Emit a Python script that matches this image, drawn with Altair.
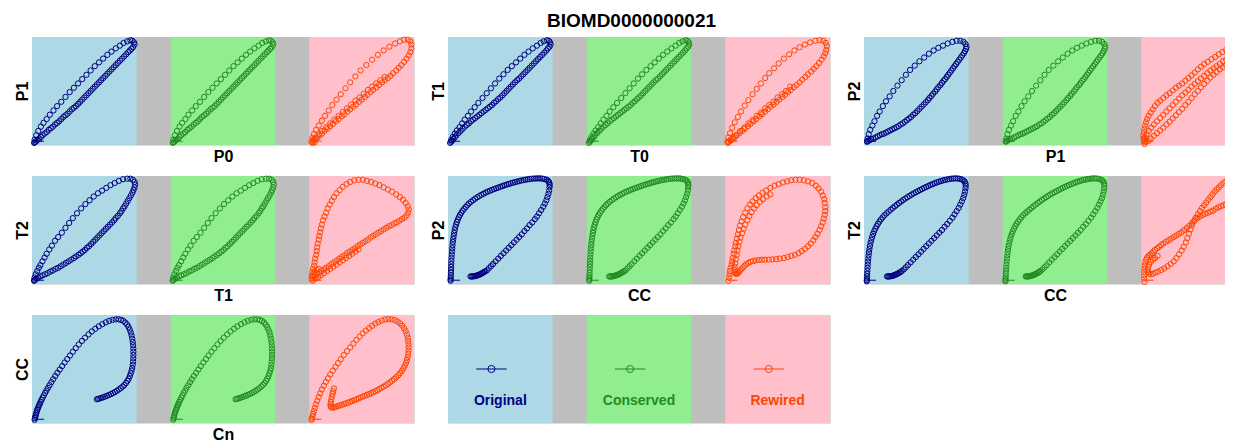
import altair as alt
import pandas as pd

FONT = "Liberation Sans"
GAP = 0.325            # grey gap between sub-panels, in sub-panel widths
SPAN = 1 + GAP
VARIANTS = ["Original", "Conserved", "Rewired"]
POINT_COLORS = ["#000080", "#228B22", "#FF4500"]
BG_COLORS = ["#ADD8E6", "#90EE90", "#FFC0CB"]
GRAY = "#BEBEBE"
TITLE = "BIOMD0000000021"

# (x label, y label) for each panel
PANEL_AXES = [("P0", "P1"), ("T0", "T1"), ("P1", "P2"), ("T1", "T2"),
              ("CC", "P2"), ("CC", "T2"), ("Cn", "CC")]

# normalised trajectories (0..1 inside each sub-panel)
P1_P0_ORIGINAL = [
    (0.02, 0.02), (0.025, 0.05), (0.04, 0.09), (0.06, 0.13), (0.085, 0.17), (0.11, 0.205), (0.14, 0.24),
    (0.17, 0.28), (0.205, 0.32), (0.24, 0.36), (0.28, 0.40), (0.32, 0.445), (0.36, 0.49), (0.40, 0.53),
    (0.44, 0.57), (0.48, 0.61), (0.52, 0.65), (0.56, 0.69), (0.60, 0.73), (0.64, 0.765), (0.68, 0.80),
    (0.72, 0.835), (0.76, 0.865), (0.80, 0.895), (0.84, 0.92), (0.875, 0.945), (0.91, 0.96), (0.94, 0.97),
    (0.96, 0.965), (0.975, 0.95), (0.98, 0.93),
    (0.965, 0.905), (0.95, 0.89), (0.935, 0.875), (0.92, 0.86), (0.90, 0.84), (0.88, 0.82), (0.86, 0.80),
    (0.84, 0.78), (0.82, 0.76), (0.80, 0.74), (0.78, 0.72), (0.76, 0.70), (0.74, 0.68), (0.72, 0.66),
    (0.70, 0.64), (0.68, 0.62), (0.66, 0.60), (0.64, 0.58), (0.62, 0.56), (0.60, 0.54), (0.58, 0.52),
    (0.56, 0.50), (0.54, 0.48), (0.52, 0.46), (0.50, 0.44), (0.48, 0.42), (0.46, 0.40), (0.44, 0.38),
    (0.42, 0.36), (0.40, 0.345), (0.38, 0.33), (0.36, 0.31), (0.34, 0.29), (0.32, 0.275), (0.30, 0.26),
    (0.28, 0.24), (0.26, 0.22), (0.24, 0.205), (0.22, 0.19), (0.20, 0.17), (0.18, 0.155), (0.16, 0.14),
    (0.14, 0.12), (0.12, 0.105), (0.10, 0.09), (0.085, 0.075), (0.07, 0.06), (0.055, 0.05), (0.045, 0.04),
    (0.035, 0.03), (0.025, 0.025)]
P1_P0_CONSERVED = P1_P0_ORIGINAL
P1_P0_REWIRED = [
    (0.02, 0.03), (0.03, 0.065), (0.045, 0.10), (0.065, 0.14), (0.09, 0.18), (0.12, 0.225), (0.15, 0.27),
    (0.185, 0.32), (0.22, 0.37), (0.26, 0.42), (0.30, 0.47), (0.345, 0.525), (0.39, 0.58), (0.44, 0.635),
    (0.49, 0.69), (0.545, 0.74), (0.60, 0.79), (0.655, 0.835), (0.71, 0.875), (0.765, 0.91), (0.82, 0.94),
    (0.865, 0.96), (0.905, 0.975), (0.94, 0.975), (0.965, 0.96), (0.975, 0.93), (0.975, 0.895), (0.965, 0.86),
    (0.95, 0.83), (0.93, 0.80), (0.905, 0.77), (0.88, 0.74), (0.855, 0.715), (0.83, 0.69), (0.80, 0.665),
    (0.775, 0.64), (0.75, 0.62), (0.72, 0.60), (0.695, 0.58), (0.665, 0.555), (0.64, 0.535), (0.61, 0.51),
    (0.585, 0.49), (0.555, 0.465), (0.53, 0.445), (0.50, 0.42), (0.475, 0.40), (0.445, 0.375), (0.42, 0.355),
    (0.39, 0.33), (0.365, 0.31), (0.335, 0.285), (0.31, 0.265), (0.28, 0.24), (0.255, 0.22), (0.225, 0.195),
    (0.20, 0.175), (0.17, 0.15), (0.145, 0.13), (0.12, 0.105), (0.095, 0.085), (0.075, 0.065), (0.055, 0.05),
    (0.04, 0.04), (0.03, 0.03),
    (0.72, 0.63), (0.68, 0.60), (0.64, 0.57), (0.60, 0.54), (0.56, 0.51), (0.52, 0.475), (0.48, 0.44),
    (0.44, 0.41), (0.40, 0.375), (0.36, 0.34), (0.32, 0.305), (0.28, 0.27), (0.24, 0.235), (0.20, 0.20),
    (0.16, 0.165), (0.12, 0.13), (0.09, 0.10), (0.06, 0.07), (0.04, 0.05), (0.03, 0.02), (0.05, 0.025)]

T1_T0_ORIGINAL = [
    (0.02, 0.02), (0.03, 0.045), (0.045, 0.075), (0.065, 0.105), (0.085, 0.135), (0.11, 0.165), (0.135, 0.20),
    (0.16, 0.235), (0.19, 0.27), (0.22, 0.31), (0.255, 0.35), (0.29, 0.39), (0.33, 0.435), (0.37, 0.48),
    (0.41, 0.525), (0.45, 0.57), (0.49, 0.615), (0.53, 0.655), (0.57, 0.695), (0.61, 0.73), (0.65, 0.765),
    (0.69, 0.80), (0.73, 0.835), (0.77, 0.865), (0.81, 0.895), (0.85, 0.92), (0.885, 0.945), (0.915, 0.96),
    (0.945, 0.97), (0.965, 0.965), (0.975, 0.95), (0.98, 0.93),
    (0.97, 0.91), (0.955, 0.895), (0.94, 0.875), (0.92, 0.855), (0.90, 0.835), (0.88, 0.815), (0.86, 0.795),
    (0.84, 0.775), (0.82, 0.755), (0.80, 0.735), (0.78, 0.715), (0.76, 0.695), (0.74, 0.675), (0.72, 0.655),
    (0.70, 0.635), (0.68, 0.615), (0.66, 0.60), (0.64, 0.58), (0.62, 0.56), (0.60, 0.54), (0.58, 0.52),
    (0.56, 0.50), (0.54, 0.48), (0.52, 0.46), (0.50, 0.44), (0.48, 0.425), (0.46, 0.405), (0.44, 0.39),
    (0.42, 0.37), (0.40, 0.355), (0.38, 0.34), (0.36, 0.325), (0.34, 0.31), (0.32, 0.295), (0.30, 0.28),
    (0.28, 0.265), (0.26, 0.25), (0.24, 0.235), (0.22, 0.22), (0.20, 0.20), (0.18, 0.185), (0.16, 0.17),
    (0.14, 0.15), (0.12, 0.13), (0.10, 0.11), (0.08, 0.09), (0.065, 0.07), (0.05, 0.055), (0.04, 0.04),
    (0.03, 0.03)]
T1_T0_CONSERVED = T1_T0_ORIGINAL
T1_T0_REWIRED = [
    (0.02, 0.03), (0.03, 0.07), (0.045, 0.11), (0.065, 0.16), (0.09, 0.21), (0.12, 0.26), (0.15, 0.31),
    (0.185, 0.365), (0.22, 0.415), (0.26, 0.47), (0.30, 0.52), (0.34, 0.57), (0.38, 0.62), (0.42, 0.665),
    (0.465, 0.71), (0.51, 0.755), (0.56, 0.80), (0.61, 0.84), (0.66, 0.875), (0.71, 0.905), (0.76, 0.93),
    (0.81, 0.95), (0.86, 0.965), (0.90, 0.97), (0.935, 0.965), (0.96, 0.945), (0.97, 0.915), (0.965, 0.88),
    (0.955, 0.85), (0.94, 0.82), (0.92, 0.79), (0.895, 0.76), (0.87, 0.73), (0.845, 0.705), (0.82, 0.68),
    (0.79, 0.655), (0.765, 0.63), (0.735, 0.605), (0.71, 0.58), (0.68, 0.555), (0.655, 0.535), (0.625, 0.51),
    (0.60, 0.49), (0.57, 0.465), (0.545, 0.445), (0.515, 0.42), (0.49, 0.40), (0.46, 0.375), (0.435, 0.355),
    (0.405, 0.33), (0.38, 0.31), (0.35, 0.285), (0.325, 0.265), (0.295, 0.24), (0.27, 0.22), (0.24, 0.195),
    (0.215, 0.175), (0.185, 0.15), (0.16, 0.13), (0.135, 0.11), (0.11, 0.09), (0.09, 0.07), (0.07, 0.055),
    (0.05, 0.04), (0.035, 0.03), (0.025, 0.02),
    (0.62, 0.54), (0.58, 0.50), (0.54, 0.47), (0.50, 0.44), (0.46, 0.40), (0.42, 0.37), (0.38, 0.34),
    (0.34, 0.30), (0.30, 0.27), (0.26, 0.23), (0.22, 0.20), (0.18, 0.16), (0.14, 0.13), (0.10, 0.09),
    (0.07, 0.07), (0.05, 0.05)]

P2_P1_ORIGINAL = [
    (0.03, 0.03), (0.035, 0.06), (0.045, 0.10), (0.06, 0.14), (0.08, 0.18), (0.10, 0.22), (0.125, 0.27),
    (0.15, 0.31), (0.18, 0.36), (0.21, 0.405), (0.245, 0.45), (0.28, 0.50), (0.32, 0.55), (0.36, 0.60),
    (0.40, 0.65), (0.44, 0.695), (0.485, 0.735), (0.53, 0.775), (0.575, 0.81), (0.62, 0.845), (0.665, 0.875),
    (0.71, 0.90), (0.755, 0.92), (0.80, 0.94), (0.845, 0.955), (0.885, 0.965), (0.92, 0.965), (0.95, 0.955),
    (0.97, 0.935), (0.98, 0.91),
    (0.975, 0.89), (0.965, 0.87), (0.955, 0.85), (0.94, 0.83), (0.925, 0.81), (0.91, 0.79), (0.895, 0.77),
    (0.88, 0.75), (0.865, 0.73), (0.85, 0.71), (0.835, 0.69), (0.82, 0.67), (0.805, 0.65), (0.79, 0.63),
    (0.775, 0.61), (0.76, 0.595), (0.745, 0.575), (0.73, 0.555), (0.71, 0.535), (0.695, 0.515), (0.68, 0.495),
    (0.66, 0.475), (0.645, 0.455), (0.625, 0.435), (0.61, 0.415), (0.59, 0.395), (0.57, 0.375), (0.55, 0.355),
    (0.53, 0.335), (0.51, 0.315), (0.49, 0.295), (0.47, 0.28), (0.45, 0.26), (0.43, 0.245), (0.41, 0.23),
    (0.39, 0.215), (0.37, 0.20), (0.35, 0.19), (0.33, 0.175), (0.31, 0.165), (0.29, 0.155), (0.27, 0.145),
    (0.25, 0.135), (0.23, 0.125), (0.21, 0.115), (0.19, 0.105), (0.17, 0.10), (0.15, 0.09), (0.13, 0.08),
    (0.11, 0.07), (0.09, 0.06), (0.07, 0.055), (0.055, 0.045), (0.04, 0.04), (0.03, 0.035)]
P2_P1_CONSERVED = P2_P1_ORIGINAL
P2_P1_REWIRED = [
    (0.03, 0.01), (0.025, 0.03), (0.02, 0.06), (0.02, 0.09), (0.025, 0.12), (0.03, 0.15), (0.035, 0.18),
    (0.045, 0.21), (0.055, 0.24), (0.07, 0.27), (0.09, 0.30), (0.11, 0.33), (0.13, 0.36), (0.155, 0.39),
    (0.18, 0.41), (0.21, 0.435), (0.24, 0.46), (0.27, 0.48), (0.30, 0.505), (0.33, 0.53), (0.36, 0.55),
    (0.39, 0.57), (0.42, 0.595), (0.45, 0.62), (0.48, 0.645), (0.51, 0.67), (0.54, 0.70), (0.57, 0.725),
    (0.60, 0.75), (0.635, 0.77), (0.67, 0.795), (0.705, 0.815), (0.74, 0.84), (0.775, 0.86), (0.81, 0.88),
    (0.845, 0.90), (0.88, 0.92), (0.915, 0.94), (0.95, 0.96), (0.975, 0.965), (0.985, 0.94), (0.98, 0.91),
    (0.96, 0.88), (0.93, 0.855), (0.90, 0.84), (0.87, 0.825), (0.84, 0.81), (0.81, 0.79), (0.78, 0.775),
    (0.75, 0.75), (0.72, 0.73), (0.69, 0.71), (0.66, 0.69), (0.63, 0.665), (0.60, 0.64), (0.57, 0.615),
    (0.54, 0.59), (0.51, 0.565), (0.48, 0.54), (0.45, 0.51), (0.42, 0.485), (0.39, 0.46), (0.36, 0.43),
    (0.33, 0.40), (0.30, 0.37), (0.27, 0.34), (0.24, 0.31), (0.21, 0.28), (0.18, 0.25), (0.15, 0.22),
    (0.12, 0.19), (0.095, 0.16), (0.07, 0.13), (0.05, 0.10), (0.035, 0.07), (0.03, 0.05), (0.035, 0.035),
    (0.05, 0.03), (0.07, 0.04), (0.09, 0.06), (0.12, 0.085), (0.15, 0.11), (0.18, 0.135), (0.21, 0.16),
    (0.24, 0.19), (0.27, 0.215), (0.30, 0.245), (0.33, 0.275), (0.36, 0.305), (0.39, 0.335), (0.42, 0.37),
    (0.45, 0.40), (0.48, 0.435), (0.51, 0.47), (0.54, 0.50), (0.57, 0.535), (0.60, 0.565), (0.63, 0.595),
    (0.66, 0.625), (0.69, 0.65), (0.72, 0.675), (0.75, 0.70), (0.78, 0.72), (0.81, 0.74), (0.84, 0.76),
    (0.87, 0.78), (0.90, 0.80), (0.93, 0.82), (0.96, 0.84)]

T2_T1_ORIGINAL = [
    (0.02, 0.03), (0.025, 0.06), (0.035, 0.09), (0.05, 0.12), (0.065, 0.15), (0.08, 0.175), (0.10, 0.21),
    (0.12, 0.245), (0.14, 0.28), (0.165, 0.32), (0.19, 0.355), (0.22, 0.40), (0.25, 0.435), (0.285, 0.475),
    (0.32, 0.52), (0.355, 0.565), (0.39, 0.61), (0.43, 0.655), (0.47, 0.70), (0.51, 0.74), (0.55, 0.775),
    (0.59, 0.81), (0.63, 0.84), (0.67, 0.865), (0.71, 0.89), (0.75, 0.915), (0.79, 0.935), (0.83, 0.955),
    (0.87, 0.97), (0.91, 0.975), (0.94, 0.975), (0.965, 0.965), (0.98, 0.945), (0.985, 0.92),
    (0.98, 0.895), (0.97, 0.87), (0.96, 0.845), (0.945, 0.82), (0.93, 0.795), (0.915, 0.77), (0.90, 0.745),
    (0.885, 0.72), (0.87, 0.70), (0.855, 0.675), (0.84, 0.655), (0.82, 0.63), (0.80, 0.61), (0.785, 0.59),
    (0.765, 0.57), (0.745, 0.55), (0.725, 0.53), (0.705, 0.51), (0.685, 0.49), (0.665, 0.47), (0.645, 0.45),
    (0.625, 0.43), (0.605, 0.41), (0.585, 0.39), (0.565, 0.37), (0.545, 0.35), (0.525, 0.335), (0.505, 0.315),
    (0.485, 0.30), (0.465, 0.285), (0.445, 0.27), (0.42, 0.255), (0.40, 0.24), (0.375, 0.225), (0.35, 0.21),
    (0.325, 0.195), (0.30, 0.18), (0.275, 0.165), (0.25, 0.15), (0.225, 0.14), (0.20, 0.125), (0.175, 0.115),
    (0.15, 0.10), (0.125, 0.09), (0.10, 0.08), (0.08, 0.07), (0.06, 0.06), (0.045, 0.05), (0.03, 0.04),
    (0.02, 0.035)]
T2_T1_CONSERVED = T2_T1_ORIGINAL
T2_T1_REWIRED = [
    (0.02, 0.05), (0.025, 0.08), (0.03, 0.11), (0.035, 0.14), (0.045, 0.17), (0.05, 0.20), (0.055, 0.235),
    (0.065, 0.27), (0.07, 0.305), (0.075, 0.34), (0.08, 0.375), (0.09, 0.41), (0.095, 0.445), (0.105, 0.48),
    (0.11, 0.515), (0.12, 0.55), (0.13, 0.59), (0.145, 0.625), (0.16, 0.66), (0.175, 0.70), (0.195, 0.735),
    (0.215, 0.77), (0.235, 0.805), (0.26, 0.84), (0.29, 0.87), (0.32, 0.90), (0.355, 0.925), (0.39, 0.945),
    (0.43, 0.96), (0.47, 0.965), (0.51, 0.965), (0.55, 0.955), (0.59, 0.945), (0.63, 0.93), (0.67, 0.915),
    (0.71, 0.895), (0.75, 0.875), (0.79, 0.855), (0.83, 0.83), (0.865, 0.805), (0.895, 0.78), (0.92, 0.75),
    (0.94, 0.72), (0.95, 0.69), (0.945, 0.66), (0.93, 0.635),
    (0.91, 0.615), (0.885, 0.60), (0.86, 0.585), (0.835, 0.57), (0.81, 0.56), (0.785, 0.545), (0.76, 0.535),
    (0.735, 0.52), (0.71, 0.505), (0.685, 0.49), (0.66, 0.475), (0.635, 0.46), (0.61, 0.445), (0.585, 0.43),
    (0.56, 0.41), (0.535, 0.395), (0.51, 0.38), (0.485, 0.365), (0.46, 0.35), (0.435, 0.33), (0.41, 0.315),
    (0.385, 0.30), (0.36, 0.285), (0.335, 0.265), (0.31, 0.25), (0.285, 0.235), (0.26, 0.215), (0.235, 0.20),
    (0.21, 0.185), (0.185, 0.165), (0.16, 0.15), (0.14, 0.135), (0.115, 0.12), (0.095, 0.105), (0.075, 0.095),
    (0.055, 0.085), (0.04, 0.075), (0.03, 0.07),
    (0.04, 0.04), (0.06, 0.05), (0.085, 0.065), (0.11, 0.08), (0.14, 0.10), (0.17, 0.12), (0.20, 0.14),
    (0.23, 0.16), (0.26, 0.18), (0.29, 0.20), (0.32, 0.22), (0.35, 0.24), (0.38, 0.26), (0.41, 0.28),
    (0.44, 0.30), (0.47, 0.32), (0.05, 0.11), (0.07, 0.13), (0.09, 0.14), (0.03, 0.03)]

P2_CC_ORIGINAL = [
    (0.215, 0.07), (0.225, 0.07), (0.235, 0.07), (0.245, 0.071), (0.255, 0.073), (0.265, 0.075), (0.275, 0.078),
    (0.285, 0.081), (0.295, 0.085), (0.305, 0.089), (0.315, 0.094), (0.325, 0.099), (0.335, 0.105),
    (0.345, 0.111), (0.355, 0.117),
    (0.37, 0.125), (0.39, 0.145), (0.41, 0.165), (0.43, 0.185), (0.455, 0.21), (0.48, 0.235), (0.505, 0.26),
    (0.53, 0.285), (0.555, 0.31), (0.58, 0.335), (0.605, 0.36), (0.63, 0.385), (0.655, 0.41), (0.68, 0.435),
    (0.705, 0.46), (0.73, 0.49), (0.755, 0.515), (0.78, 0.545), (0.805, 0.57), (0.83, 0.60), (0.85, 0.625),
    (0.87, 0.655), (0.89, 0.685), (0.91, 0.715), (0.925, 0.745), (0.94, 0.775), (0.95, 0.805), (0.96, 0.835),
    (0.967, 0.865), (0.97, 0.895), (0.972, 0.915),
    (0.97, 0.93), (0.965, 0.945), (0.955, 0.957), (0.94, 0.966), (0.92, 0.972), (0.90, 0.976), (0.88, 0.978),
    (0.86, 0.978), (0.84, 0.977), (0.82, 0.976), (0.80, 0.975), (0.78, 0.972), (0.76, 0.969), (0.74, 0.966),
    (0.72, 0.962), (0.70, 0.958), (0.68, 0.953), (0.66, 0.948), (0.64, 0.943), (0.62, 0.938), (0.60, 0.932),
    (0.58, 0.926), (0.56, 0.92), (0.54, 0.914), (0.52, 0.907), (0.50, 0.90), (0.48, 0.893), (0.46, 0.886),
    (0.44, 0.879), (0.42, 0.871), (0.40, 0.863), (0.38, 0.855), (0.36, 0.846), (0.34, 0.836), (0.32, 0.826),
    (0.30, 0.815), (0.28, 0.803), (0.26, 0.79), (0.24, 0.776), (0.22, 0.761), (0.20, 0.745), (0.185, 0.73),
    (0.17, 0.714), (0.155, 0.697), (0.14, 0.679), (0.127, 0.66), (0.115, 0.64), (0.104, 0.619), (0.094, 0.597),
    (0.085, 0.574), (0.077, 0.55), (0.07, 0.525), (0.064, 0.499), (0.059, 0.472), (0.054, 0.445), (0.05, 0.417),
    (0.046, 0.389), (0.043, 0.36), (0.04, 0.331), (0.038, 0.302), (0.036, 0.273), (0.034, 0.244),
    (0.032, 0.215), (0.031, 0.186), (0.03, 0.158), (0.029, 0.13), (0.028, 0.104), (0.027, 0.08),
    (0.026, 0.06), (0.025, 0.043), (0.025, 0.03)]
P2_CC_CONSERVED = P2_CC_ORIGINAL
P2_CC_REWIRED = [
    (0.03, 0.03), (0.035, 0.06), (0.04, 0.09), (0.045, 0.12), (0.05, 0.15), (0.06, 0.18), (0.065, 0.21),
    (0.07, 0.24), (0.08, 0.28), (0.085, 0.31), (0.095, 0.35), (0.10, 0.38), (0.11, 0.42), (0.12, 0.46),
    (0.13, 0.50), (0.14, 0.54), (0.155, 0.58), (0.17, 0.62), (0.19, 0.66), (0.21, 0.70), (0.235, 0.735),
    (0.26, 0.765), (0.29, 0.795), (0.32, 0.82), (0.355, 0.845), (0.39, 0.865), (0.43, 0.89), (0.47, 0.91),
    (0.51, 0.925), (0.55, 0.94), (0.59, 0.95), (0.63, 0.96), (0.67, 0.965), (0.71, 0.965), (0.75, 0.96),
    (0.79, 0.95), (0.83, 0.935), (0.865, 0.91), (0.89, 0.885), (0.915, 0.855), (0.93, 0.82), (0.945, 0.785),
    (0.95, 0.75), (0.955, 0.71), (0.955, 0.675), (0.95, 0.64), (0.94, 0.605), (0.93, 0.57), (0.915, 0.535),
    (0.90, 0.50), (0.88, 0.465), (0.86, 0.435), (0.84, 0.405), (0.815, 0.375), (0.79, 0.35), (0.76, 0.325),
    (0.73, 0.305), (0.70, 0.285), (0.665, 0.27), (0.63, 0.26), (0.595, 0.25), (0.56, 0.24), (0.52, 0.235),
    (0.485, 0.23), (0.45, 0.228), (0.415, 0.226), (0.38, 0.225), (0.35, 0.225), (0.32, 0.222), (0.29, 0.218),
    (0.265, 0.212), (0.24, 0.205), (0.22, 0.195), (0.20, 0.185), (0.185, 0.17), (0.17, 0.155), (0.155, 0.14),
    (0.14, 0.125), (0.13, 0.11), (0.12, 0.10), (0.11, 0.095), (0.10, 0.095), (0.095, 0.10), (0.09, 0.11),
    (0.088, 0.13), (0.09, 0.16), (0.095, 0.19), (0.10, 0.23), (0.108, 0.27), (0.115, 0.31), (0.125, 0.35),
    (0.135, 0.39), (0.145, 0.43), (0.16, 0.47), (0.175, 0.51), (0.19, 0.55), (0.21, 0.59), (0.23, 0.63),
    (0.25, 0.665), (0.275, 0.70), (0.30, 0.73), (0.33, 0.76), (0.36, 0.785), (0.395, 0.81), (0.43, 0.83)]

T2_CC_ORIGINAL = [
    (0.22, 0.07), (0.23, 0.07), (0.24, 0.07), (0.25, 0.071), (0.26, 0.073), (0.27, 0.075), (0.28, 0.078),
    (0.29, 0.082), (0.30, 0.086), (0.31, 0.09), (0.32, 0.095), (0.33, 0.10), (0.34, 0.106), (0.35, 0.112),
    (0.36, 0.12),
    (0.38, 0.135), (0.40, 0.155), (0.42, 0.175), (0.445, 0.20), (0.47, 0.225), (0.495, 0.25), (0.52, 0.275),
    (0.545, 0.30), (0.57, 0.325), (0.595, 0.35), (0.62, 0.375), (0.645, 0.40), (0.67, 0.425), (0.695, 0.45),
    (0.72, 0.475), (0.745, 0.50), (0.77, 0.53), (0.795, 0.555), (0.82, 0.585), (0.845, 0.615), (0.865, 0.645),
    (0.885, 0.675), (0.905, 0.705), (0.92, 0.735), (0.935, 0.765), (0.948, 0.795), (0.958, 0.825),
    (0.965, 0.855), (0.97, 0.885), (0.972, 0.91),
    (0.97, 0.93), (0.962, 0.947), (0.95, 0.96), (0.935, 0.968), (0.915, 0.974), (0.895, 0.977), (0.875, 0.978),
    (0.855, 0.977), (0.835, 0.975), (0.815, 0.972), (0.795, 0.968), (0.775, 0.964), (0.755, 0.959),
    (0.735, 0.953), (0.715, 0.947), (0.695, 0.94), (0.675, 0.933), (0.655, 0.925), (0.635, 0.917),
    (0.615, 0.908), (0.595, 0.899), (0.575, 0.89), (0.555, 0.88), (0.535, 0.87), (0.515, 0.86), (0.495, 0.85),
    (0.475, 0.839), (0.455, 0.828), (0.435, 0.816), (0.415, 0.804), (0.395, 0.791), (0.375, 0.778),
    (0.355, 0.764), (0.335, 0.75), (0.315, 0.735), (0.295, 0.72), (0.275, 0.704), (0.255, 0.688),
    (0.235, 0.671), (0.215, 0.654), (0.195, 0.636), (0.178, 0.617), (0.162, 0.598), (0.147, 0.578),
    (0.133, 0.557), (0.12, 0.535), (0.108, 0.512), (0.097, 0.488), (0.087, 0.463), (0.078, 0.437),
    (0.07, 0.41), (0.063, 0.382), (0.057, 0.353), (0.052, 0.324), (0.048, 0.295), (0.044, 0.266),
    (0.041, 0.237), (0.038, 0.208), (0.036, 0.179), (0.034, 0.15), (0.032, 0.122), (0.03, 0.095),
    (0.029, 0.07), (0.028, 0.05), (0.027, 0.035), (0.027, 0.025)]
T2_CC_CONSERVED = T2_CC_ORIGINAL
T2_CC_REWIRED = [
    (0.03, 0.02), (0.028, 0.05), (0.027, 0.08), (0.028, 0.11), (0.03, 0.14), (0.033, 0.17), (0.037, 0.20),
    (0.045, 0.225), (0.055, 0.245), (0.07, 0.26), (0.085, 0.27), (0.10, 0.285), (0.115, 0.30), (0.13, 0.315),
    (0.15, 0.33), (0.17, 0.345), (0.19, 0.36), (0.21, 0.375), (0.235, 0.39), (0.26, 0.405), (0.285, 0.42),
    (0.31, 0.435), (0.335, 0.45), (0.36, 0.465), (0.385, 0.48), (0.41, 0.50), (0.435, 0.52), (0.46, 0.54),
    (0.485, 0.565), (0.51, 0.59), (0.535, 0.61), (0.56, 0.625), (0.585, 0.64), (0.61, 0.65), (0.635, 0.66),
    (0.66, 0.67), (0.685, 0.68), (0.71, 0.695), (0.735, 0.71), (0.76, 0.72), (0.785, 0.73), (0.81, 0.74),
    (0.835, 0.75), (0.86, 0.76), (0.885, 0.775), (0.91, 0.79), (0.935, 0.81), (0.955, 0.84), (0.97, 0.87),
    (0.975, 0.90), (0.97, 0.93), (0.955, 0.955), (0.935, 0.97), (0.91, 0.98), (0.885, 0.985), (0.86, 0.98),
    (0.835, 0.965), (0.81, 0.95), (0.785, 0.935), (0.76, 0.915), (0.74, 0.895), (0.72, 0.875), (0.70, 0.855),
    (0.68, 0.83), (0.66, 0.805), (0.64, 0.78), (0.62, 0.755), (0.60, 0.73), (0.58, 0.705), (0.56, 0.675),
    (0.54, 0.645), (0.52, 0.615), (0.50, 0.58), (0.485, 0.545), (0.47, 0.505), (0.455, 0.465), (0.44, 0.425),
    (0.425, 0.385), (0.405, 0.345), (0.385, 0.31), (0.36, 0.275), (0.335, 0.24), (0.31, 0.21), (0.28, 0.185),
    (0.25, 0.165), (0.22, 0.145), (0.19, 0.13), (0.16, 0.115), (0.135, 0.105), (0.11, 0.095), (0.09, 0.09),
    (0.075, 0.095), (0.065, 0.11), (0.06, 0.13), (0.065, 0.155), (0.075, 0.18), (0.09, 0.205), (0.11, 0.225),
    (0.13, 0.24), (0.155, 0.26)]

CC_CN_ORIGINAL = [
    (0.025, 0.03), (0.028, 0.045), (0.032, 0.06), (0.036, 0.075), (0.04, 0.09), (0.045, 0.105), (0.05, 0.12),
    (0.056, 0.135), (0.062, 0.15), (0.068, 0.165), (0.075, 0.18), (0.083, 0.197), (0.092, 0.215),
    (0.102, 0.235), (0.113, 0.255), (0.125, 0.278), (0.138, 0.30), (0.152, 0.325), (0.168, 0.35),
    (0.185, 0.378), (0.203, 0.405), (0.222, 0.435), (0.243, 0.465), (0.265, 0.495), (0.288, 0.527),
    (0.312, 0.56), (0.337, 0.592), (0.363, 0.625), (0.39, 0.66), (0.418, 0.693), (0.447, 0.727), (0.477, 0.76),
    (0.508, 0.79), (0.54, 0.82), (0.572, 0.848), (0.605, 0.873), (0.638, 0.895), (0.672, 0.915), (0.705, 0.932),
    (0.738, 0.946), (0.77, 0.955), (0.80, 0.96), (0.828, 0.96), (0.852, 0.955), (0.873, 0.945), (0.892, 0.93),
    (0.908, 0.912), (0.922, 0.89), (0.934, 0.865), (0.944, 0.838), (0.952, 0.81), (0.958, 0.78), (0.963, 0.75),
    (0.966, 0.72), (0.968, 0.69), (0.969, 0.66), (0.969, 0.63), (0.968, 0.60), (0.966, 0.57), (0.963, 0.54),
    (0.958, 0.51), (0.952, 0.485), (0.944, 0.46), (0.935, 0.435), (0.924, 0.41), (0.912, 0.39), (0.898, 0.37),
    (0.882, 0.352), (0.866, 0.337), (0.848, 0.323), (0.83, 0.31), (0.812, 0.298), (0.793, 0.287),
    (0.774, 0.277), (0.755, 0.268), (0.736, 0.26), (0.717, 0.252), (0.698, 0.245), (0.68, 0.238),
    (0.662, 0.232), (0.646, 0.227), (0.632, 0.223), (0.62, 0.22)]
CC_CN_CONSERVED = CC_CN_ORIGINAL
CC_CN_REWIRED = [
    (0.235, 0.32), (0.228, 0.295), (0.222, 0.27), (0.216, 0.245), (0.21, 0.22), (0.205, 0.195), (0.202, 0.172),
    (0.203, 0.155), (0.21, 0.145), (0.222, 0.142), (0.237, 0.145), (0.254, 0.15), (0.272, 0.156),
    (0.291, 0.162), (0.31, 0.168), (0.33, 0.175), (0.35, 0.182), (0.37, 0.189), (0.39, 0.196), (0.41, 0.204),
    (0.43, 0.212), (0.45, 0.22), (0.47, 0.228), (0.49, 0.236), (0.51, 0.244), (0.53, 0.252), (0.55, 0.26),
    (0.57, 0.268), (0.59, 0.277), (0.61, 0.286), (0.63, 0.295), (0.65, 0.305), (0.67, 0.315), (0.69, 0.326),
    (0.71, 0.337), (0.73, 0.349), (0.75, 0.362), (0.77, 0.376), (0.79, 0.391), (0.81, 0.407), (0.83, 0.424),
    (0.85, 0.443), (0.868, 0.463), (0.885, 0.485), (0.90, 0.508), (0.913, 0.532), (0.924, 0.557),
    (0.933, 0.583), (0.94, 0.61), (0.945, 0.64), (0.948, 0.67), (0.949, 0.70), (0.948, 0.73), (0.945, 0.76),
    (0.94, 0.79), (0.932, 0.82), (0.92, 0.85), (0.905, 0.877), (0.887, 0.902), (0.866, 0.923), (0.842, 0.94),
    (0.815, 0.953), (0.786, 0.96), (0.755, 0.962), (0.724, 0.958), (0.692, 0.948), (0.66, 0.935),
    (0.63, 0.92), (0.60, 0.90), (0.57, 0.878), (0.54, 0.855), (0.51, 0.83), (0.48, 0.80), (0.45, 0.77),
    (0.42, 0.735), (0.39, 0.70), (0.36, 0.665), (0.33, 0.63), (0.30, 0.59), (0.275, 0.555), (0.25, 0.52),
    (0.225, 0.485), (0.20, 0.45), (0.178, 0.415), (0.157, 0.38), (0.138, 0.345), (0.12, 0.31), (0.104, 0.275),
    (0.089, 0.24), (0.075, 0.205), (0.063, 0.172), (0.052, 0.14), (0.043, 0.11), (0.035, 0.083),
    (0.029, 0.06), (0.025, 0.042), (0.022, 0.03)]

CURVES = [
    (P1_P0_ORIGINAL, P1_P0_CONSERVED, P1_P0_REWIRED),
    (T1_T0_ORIGINAL, T1_T0_CONSERVED, T1_T0_REWIRED),
    (P2_P1_ORIGINAL, P2_P1_CONSERVED, P2_P1_REWIRED),
    (T2_T1_ORIGINAL, T2_T1_CONSERVED, T2_T1_REWIRED),
    (P2_CC_ORIGINAL, P2_CC_CONSERVED, P2_CC_REWIRED),
    (T2_CC_ORIGINAL, T2_CC_CONSERVED, T2_CC_REWIRED),
    (CC_CN_ORIGINAL, CC_CN_CONSERVED, CC_CN_REWIRED),
]
START_MARK = (0.07, 0.035)   # short dash drawn at the start of each trajectory

PANEL_W, PANEL_H = 382, 108
XMAX = 3 + 2 * GAP
XSCALE = alt.Scale(domain=[0, XMAX], nice=False, zero=False, padding=0)
YSCALE = alt.Scale(domain=[0, 1], nice=False, zero=False, padding=0)
STROKE = alt.Scale(domain=VARIANTS, range=POINT_COLORS)
FILL = alt.Scale(domain=VARIANTS + ["gap"], range=BG_COLORS + [GRAY])


def xaxis(t):
    if t is None:
        return None
    return alt.Axis(title=t, labels=False, ticks=False, domain=False, grid=False, titleFont=FONT,
                    titleFontSize=16, titleFontWeight="bold", titleColor="black", titlePadding=3)


def yaxis(t):
    if t is None:
        return None
    return alt.Axis(title=t, labels=False, ticks=False, domain=False, grid=False, titleFont=FONT,
                    titleFontSize=16, titleFontWeight="bold", titleColor="black", titlePadding=2)


# grey strip behind the whole group, then the three coloured sub-panels
bg_df = pd.DataFrame({"variant": ["gap"] + VARIANTS, "k": [-1, 0, 1, 2],
                      "y0": [0, 0, 0, 0], "y1": [1, 1, 1, 1]})


def background(xt, yt):
    return alt.Chart(bg_df).transform_calculate(
        x0=f"datum.k < 0 ? 0 : datum.k*{SPAN}",
        x1=f"datum.k < 0 ? {XMAX} : datum.k*{SPAN}+1"
    ).mark_rect(strokeWidth=0).encode(
        x=alt.X("x0:Q", scale=XSCALE, axis=xaxis(xt)), x2="x1:Q",
        y=alt.Y("y0:Q", scale=YSCALE, axis=yaxis(yt)), y2="y1:Q",
        fill=alt.Fill("variant:N", scale=FILL, legend=None),
        order=alt.Order("k:Q"))


def group(i):
    xt, yt = PANEL_AXES[i]
    rows = []
    for k, curve in enumerate(CURVES[i]):
        for (x, y) in curve:
            rows.append({"variant": VARIANTS[k], "k": k, "x": x, "y": y})
    df = pd.DataFrame(rows)
    start = pd.DataFrame({"variant": VARIANTS, "k": [0, 1, 2],
                          "x": [START_MARK[0]] * 3, "y": [START_MARK[1]] * 3})
    pts = alt.Chart(df).transform_calculate(xp=f"datum.x + datum.k*{SPAN}").mark_point(
        shape="circle", filled=False, size=28, strokeWidth=1, opacity=1, clip=False).encode(
        x=alt.X("xp:Q", scale=XSCALE, axis=xaxis(xt)),
        y=alt.Y("y:Q", scale=YSCALE, axis=yaxis(yt)),
        stroke=alt.Stroke("variant:N", scale=STROKE, legend=None))
    dash = alt.Chart(start).transform_calculate(xp=f"datum.x + datum.k*{SPAN}").mark_point(
        shape="M-1,0L1,0", filled=False, size=90, strokeWidth=1, opacity=1).encode(
        x=alt.X("xp:Q", scale=XSCALE, axis=xaxis(xt)),
        y=alt.Y("y:Q", scale=YSCALE, axis=yaxis(yt)),
        stroke=alt.Stroke("variant:N", scale=STROKE, legend=None))
    return alt.layer(background(xt, yt), pts, dash).properties(width=PANEL_W, height=PANEL_H)


# legend panel
LEGEND_LINE = (0.27, 0.56)
LEGEND_SYMBOL = (0.415, 0.50)
LEGEND_TEXT = (0.50, 0.205)
leg_df = pd.DataFrame({"variant": VARIANTS, "k": [0, 1, 2]})
leg_bg = background(None, None)
leg_line = alt.Chart(leg_df).transform_calculate(
    xa=f"datum.k*{SPAN}+{LEGEND_LINE[0]}", xb=f"datum.k*{SPAN}+{LEGEND_LINE[1]}", yy=f"{LEGEND_SYMBOL[1]}"
).mark_rule(strokeWidth=1).encode(
    x=alt.X("xa:Q", scale=XSCALE, axis=None), x2="xb:Q", y=alt.Y("yy:Q", scale=YSCALE, axis=None),
    stroke=alt.Stroke("variant:N", scale=STROKE, legend=None))
leg_sym = alt.Chart(leg_df).transform_calculate(
    xs=f"datum.k*{SPAN}+{LEGEND_SYMBOL[0]}", yy=f"{LEGEND_SYMBOL[1]}"
).mark_point(shape="circle", filled=False, size=50, strokeWidth=1, opacity=1).encode(
    x=alt.X("xs:Q", scale=XSCALE, axis=None), y=alt.Y("yy:Q", scale=YSCALE, axis=None),
    stroke=alt.Stroke("variant:N", scale=STROKE, legend=None))
leg_txt = alt.Chart(leg_df).transform_calculate(
    xt=f"datum.k*{SPAN}+{LEGEND_TEXT[0]}", yt=f"{LEGEND_TEXT[1]}"
).mark_text(font=FONT, fontSize=14, fontWeight="bold", align="center", baseline="middle").encode(
    x=alt.X("xt:Q", scale=XSCALE, axis=None), y=alt.Y("yt:Q", scale=YSCALE, axis=None),
    text="variant:N",
    color=alt.Color("variant:N", scale=STROKE, legend=None))
legend_panel = alt.layer(leg_bg, leg_line, leg_sym, leg_txt).properties(width=PANEL_W, height=PANEL_H)

panels = [group(i) for i in range(7)] + [legend_panel]

# the right-most column runs past the window edge in the reference: a negative right padding crops it
chart = alt.concat(*panels, columns=3, spacing={"row": 31, "column": 34}, bounds="flush").properties(
    title=alt.TitleParams(TITLE, font=FONT, fontSize=19, fontWeight="bold", color="black",
                          anchor="middle", offset=4),
    padding={"left": 5, "top": 3, "bottom": 5, "right": -25},
).configure_view(stroke=None).configure_axis(grid=False).configure(background="white")

chart.save("out.html", embed_options={"renderer": "svg", "actions": False})
